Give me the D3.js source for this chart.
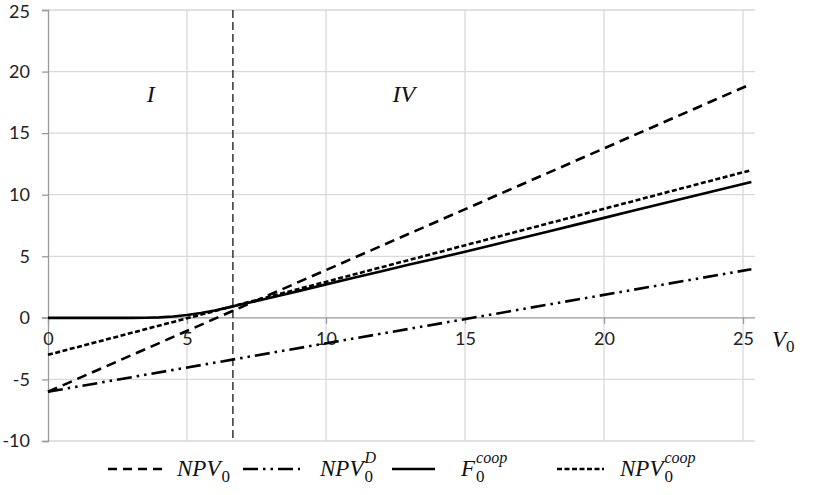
<!DOCTYPE html>
<html><head><meta charset="utf-8">
<script src="https://cdn.jsdelivr.net/npm/d3@7"></script>
<style>body{margin:0;background:#fff}svg{display:block}</style>
</head><body><svg id="c" width="817" height="495"></svg>
<script>
// ---- data ----
const xTicks = [0, 5, 10, 15, 20, 25];
const yTicks = [-10, -5, 0, 5, 10, 15, 20, 25];
const V = [0, 1, 2, 3, 3.5, 4, 4.5, 5, 5.5, 6, 6.5, 7, 7.5, 8, 9, 10, 11, 12, 13, 14, 15, 16, 17, 18, 19, 20, 21, 22, 23, 24, 25, 25.3];
const npvLineV = [0, 25.3];
const npv0 = [-6, 19.0];
const npvD = [-6, 3.95];
const npvCoop = [-3, 12.0];
const fCoop = [0, 0, 0, 0, 0.01, 0.04, 0.11, 0.23, 0.4, 0.6, 0.85, 1.12, 1.37, 1.63, 2.17, 2.72, 3.25, 3.79, 4.33, 4.84, 5.37, 5.92, 6.47, 7.02, 7.57, 8.12, 8.67, 9.22, 9.77, 10.32, 10.87, 11.03];
const vLine = 6.65;
const regionLabels = [{x: 3.7, y: 17.5, t: "I"}, {x: 12.8, y: 17.5, t: "IV"}];

// ---- layout ----
const svg = d3.select("#c");
const x = d3.scaleLinear().domain([0, 25.43]).range([48, 755]);
const y = d3.scaleLinear().domain([-10, 25]).range([441, 10]);
const gridC = "#d9d9d9", axisC = "#9a9a9a";
const sans = "Lato, 'Open Sans', sans-serif";
const serif = "'Liberation Serif', 'DejaVu Serif', serif";

// gridlines
svg.append("g").selectAll("line").data(yTicks.filter(d => d !== 0)).join("line")
  .attr("x1", 48).attr("x2", 755).attr("y1", d => y(d)).attr("y2", d => y(d))
  .attr("stroke", gridC).attr("stroke-width", 1.3);
svg.append("g").selectAll("line").data(xTicks.filter(d => d !== 0)).join("line")
  .attr("x1", d => x(d)).attr("x2", d => x(d)).attr("y1", y(25)).attr("y2", y(-10))
  .attr("stroke", gridC).attr("stroke-width", 1.3);

// y axis
const yAxis = svg.append("g").attr("transform", "translate(48,0)")
  .call(d3.axisLeft(y).tickValues(yTicks).tickSize(6).tickPadding(12).tickFormat(d => String(d)));
yAxis.select(".domain").attr("stroke", axisC).attr("stroke-width", 1.3);
yAxis.selectAll(".tick line").attr("stroke", axisC).attr("stroke-width", 1.3);
yAxis.selectAll("text").attr("font-family", sans).attr("font-size", 18).attr("fill", "#222")
  .attr("x", -18);
yAxis.selectAll(".tick").filter(d => d === 25).select("text").attr("dy", "0.4em");

// x axis at y=0
const xAxis = svg.append("g").attr("transform", `translate(0,${y(0)})`)
  .call(d3.axisBottom(x).tickValues(xTicks).tickSize(6).tickPadding(8).tickFormat(d => String(d)));
xAxis.select(".domain").attr("stroke", axisC).attr("stroke-width", 1.3).attr("d", `M42,0H755`);
xAxis.selectAll(".tick line").attr("stroke", axisC).attr("stroke-width", 1.3);
xAxis.selectAll("text").attr("font-family", sans).attr("font-size", 18).attr("fill", "#222");

// V0 axis label
const vl = svg.append("text").attr("x", 772).attr("y", 347).attr("font-family", serif).attr("font-size", 23).attr("fill", "#111");
vl.append("tspan").attr("font-style", "italic").text("V");
vl.append("tspan").attr("font-size", 17).attr("dy", 5).text("0");

// vertical dashed line
svg.append("line").attr("x1", x(vLine)).attr("x2", x(vLine)).attr("y1", y(25)).attr("y2", y(-10))
  .attr("stroke", "#404040").attr("stroke-width", 1.6).attr("stroke-dasharray", "8,4");

// series
const line = d3.line().x(d => x(d[0])).y(d => y(d[1]));
function draw(xs, ys, dash) {
  svg.append("path").datum(xs.map((v, i) => [v, ys[i]])).attr("d", line)
    .attr("fill", "none").attr("stroke", "#000").attr("stroke-width", 2.6)
    .attr("stroke-dasharray", dash);
}
draw(npvLineV, npvD, "15,5,2.5,5,2.5,5");
draw(npvLineV, npv0, "10,6");
draw(npvLineV, npvCoop, "5,2.5");
draw(V, fCoop, null);

// region labels
svg.append("g").selectAll("text").data(regionLabels).join("text")
  .attr("x", d => x(d.x)).attr("y", d => y(d.y)).attr("text-anchor", "middle")
  .attr("font-family", serif).attr("font-style", "italic").attr("font-size", 24).attr("fill", "#111")
  .text(d => d.t);

// legend
const legend = [
  {x1: 108, x2: 162, dash: "9,6", tx: 177, base: "NPV", sup: null},
  {x1: 243, x2: 300, dash: "15,5,2.5,5,2.5,5", tx: 320, base: "NPV", sup: "D"},
  {x1: 392, x2: 435, dash: null, tx: 461, base: "F", sup: "coop"},
  {x1: 557, x2: 604, dash: "5,2.5", tx: 620, base: "NPV", sup: "coop"}
];
const lg = svg.append("g");
legend.forEach(l => {
  lg.append("line").attr("x1", l.x1).attr("x2", l.x2).attr("y1", 469).attr("y2", 469)
    .attr("stroke", "#000").attr("stroke-width", 2.6).attr("stroke-dasharray", l.dash);
  const t = lg.append("text").attr("x", l.tx).attr("y", 476).attr("font-family", serif)
    .attr("font-size", 23).attr("fill", "#111").attr("font-style", "italic").text(l.base);
  const w = t.node().getComputedTextLength();
  lg.append("text").attr("x", l.tx + w + 1).attr("y", 482).attr("font-family", serif)
    .attr("font-size", 17).attr("fill", "#111").text("0");
  if (l.sup) {
    lg.append("text").attr("x", l.tx + w + 1).attr("y", 463).attr("font-family", serif)
      .attr("font-size", 16).attr("font-style", "italic").attr("fill", "#111").text(l.sup);
  }
});
</script></body></html>
